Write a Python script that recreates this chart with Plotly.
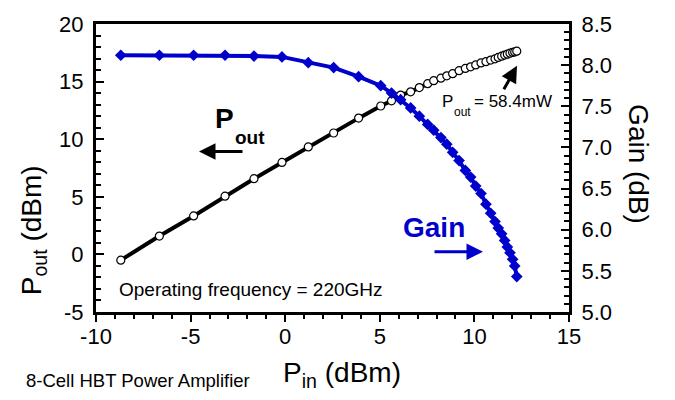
import plotly.graph_objects as go

# ---- data ----
pin_dbm = [-8.69, -6.65, -4.84, -3.18, -1.65, -0.17, 1.22, 2.56, 3.88, 5.05, 5.62,
           6.10, 6.63, 7.09, 7.53, 7.85, 8.23, 8.54, 8.85, 9.19, 9.52, 9.80, 10.07,
           10.35, 10.61, 10.86, 11.09, 11.26, 11.44, 11.60, 11.74, 11.88, 12.02,
           12.13, 12.24]
pout_dbm = [-0.50, 1.59, 3.34, 5.05, 6.57, 7.98, 9.33, 10.54, 11.83, 12.88, 13.33,
            13.83, 14.11, 14.48, 14.82, 15.08, 15.30, 15.50, 15.69, 15.95, 16.14,
            16.28, 16.45, 16.62, 16.73, 16.87, 16.98, 17.10, 17.21, 17.30, 17.38,
            17.47, 17.53, 17.58, 17.64]
gain_db = [8.12, 8.12, 8.12, 8.12, 8.11, 8.10, 8.03, 7.97, 7.86, 7.75, 7.66,
           7.58, 7.48, 7.38, 7.28, 7.21, 7.12, 7.04, 6.94, 6.84, 6.72, 6.64, 6.53,
           6.44, 6.31, 6.20, 6.10, 6.02, 5.95, 5.87, 5.79, 5.72, 5.64, 5.56, 5.43]

x_tickvals = [-10, -5, 0, 5, 10, 15]
x_ticktext = ["-10", "-5", "0", "5", "10", "15"]
y_tickvals = [-5, 0, 5, 10, 15, 20]
y_ticktext = ["-5", "0", "5", "10", "15", "20"]
g_tickvals = [5.0, 5.5, 6.0, 6.5, 7.0, 7.5, 8.0, 8.5]
g_ticktext = ["5.0", "5.5", "6.0", "6.5", "7.0", "7.5", "8.0", "8.5"]

FONT = "Liberation Sans, Arial, sans-serif"
BLUE = "#0000CC"

# plot-area geometry (pixels)
W, H = 675, 400
L, R, T, B = 96, 569, 16, 312


def px(x):
    return (x - L) / (R - L)


def py(y):
    return (B - y) / (B - T)


fig = go.Figure()
fig.add_trace(go.Scatter(
    x=pin_dbm, y=pout_dbm, mode="lines+markers",
    line=dict(color="black", width=4),
    marker=dict(symbol="circle", size=8, color="white",
                line=dict(color="black", width=1.2)),
    showlegend=False))
fig.add_trace(go.Scatter(
    x=pin_dbm, y=gain_db, yaxis="y2", mode="lines+markers",
    line=dict(color=BLUE, width=4),
    marker=dict(symbol="diamond", size=9, color=BLUE),
    showlegend=False))

axis_common = dict(showline=True, linecolor="black", linewidth=3,
                   showgrid=False, zeroline=False,
                   tickfont=dict(family=FONT, size=22, color="black"),
                   tickcolor="black", tickwidth=2)

fig.update_layout(
    width=W, height=H,
    margin=dict(l=L, r=W - R, t=T, b=H - B),
    paper_bgcolor="white", plot_bgcolor="white",
    font=dict(family=FONT, color="black"),
    xaxis=dict(range=[-10, 15], tickvals=x_tickvals, ticktext=x_ticktext,
               ticks="outside", ticklen=7, mirror=True, ticklabelstandoff=-4,
               minor=dict(dtick=1, ticks="outside", ticklen=4,
                          tickcolor="black", tickwidth=2),
               **axis_common),
    yaxis=dict(range=[-5, 20], tickvals=y_tickvals, ticktext=y_ticktext,
               ticks="inside", ticklen=8, ticklabelstandoff=5,
               minor=dict(dtick=1, ticks="inside", ticklen=5,
                          tickcolor="black", tickwidth=2),
               **axis_common),
    yaxis2=dict(range=[5.0, 8.5], tickvals=g_tickvals, ticktext=g_ticktext,
                overlaying="y", side="right", ticks="inside", ticklen=8,
                ticklabelstandoff=5,
                minor=dict(dtick=0.1, ticks="inside", ticklen=5,
                           tickcolor="black", tickwidth=2),
                **axis_common),
)

ann = []
# axis titles
ann.append(dict(text="P<sub>in</sub> (dBm)", x=px(342), y=py(376),
                font=dict(size=28, family=FONT)))
ann.append(dict(text="P<sub>out</sub> (dBm)", x=px(33), y=py(228), textangle=-90,
                font=dict(size=28, family=FONT)))
ann.append(dict(text="Gain (dB)", x=px(639), y=py(160), textangle=90,
                font=dict(size=28, family=FONT)))
# labels
ann.append(dict(text="<b>P</b>", x=px(213), y=py(113), xanchor="left",
                font=dict(size=28, family=FONT)))
ann.append(dict(text="<b>out</b>", x=px(233), y=py(133), xanchor="left",
                font=dict(size=19, family=FONT)))
ann.append(dict(text="<b>Gain</b>", x=px(401), y=py(225), xanchor="left",
                font=dict(size=28, family=FONT, color=BLUE)))
ann.append(dict(text="P", x=px(440), y=py(96), xanchor="left",
                font=dict(size=17, family=FONT)))
ann.append(dict(text="out", x=px(452), y=py(106), xanchor="left",
                font=dict(size=12, family=FONT)))
ann.append(dict(text="= 58.4mW", x=px(472), y=py(96), xanchor="left",
                font=dict(size=17, family=FONT)))
ann.append(dict(text="Operating frequency = 220GHz", x=px(117), y=py(289),
                xanchor="left", font=dict(size=19, family=FONT)))
ann.append(dict(text="8-Cell HBT Power Amplifier", x=px(24), y=py(382),
                xanchor="left", font=dict(size=18.5, family=FONT)))
for a in ann:
    a.setdefault("xanchor", "center")
    a.update(xref="paper", yref="paper", showarrow=False, yanchor="middle")
    fig.add_annotation(**a)

# arrows
arrows = [
    dict(head=(199, 147), tail=(244, 147), color="black"),
    dict(head=(483, 250), tail=(433, 250), color=BLUE),
    dict(head=(517, 59), tail=(503, 84), color="black"),
]
for a in arrows:
    hx, hy = a["head"]
    tx, ty = a["tail"]
    fig.add_annotation(xref="paper", yref="paper", x=px(hx), y=py(hy),
                       ax=tx - hx, ay=ty - hy, axref="pixel", ayref="pixel",
                       text="", showarrow=True, arrowhead=2, arrowsize=1.1,
                       arrowwidth=3, arrowcolor=a["color"])

fig.write_html("out.html")
